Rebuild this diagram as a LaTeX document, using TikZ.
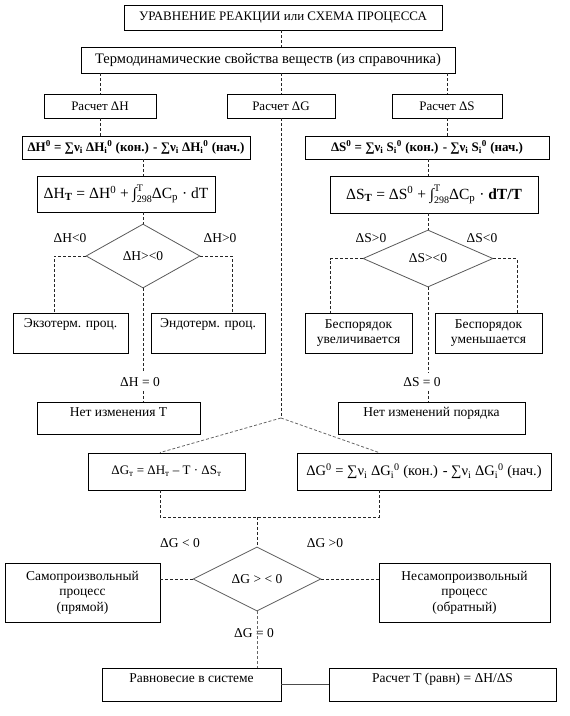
\documentclass[tikz,border=0pt]{standalone}
\usepackage{fontspec}
\setmainfont{Liberation Serif}
\usetikzlibrary{shapes.geometric}
\newcommand{\fsN}{\fontsize{13.5}{15.5}\selectfont}
\newcommand{\fsR}{\fontsize{13}{15}\selectfont}
\newcommand{\fsL}{\fontsize{14.5}{16.5}\selectfont}
\newcommand{\fsS}{\fontsize{13}{15}\selectfont}
\newcommand{\fsB}{\fontsize{15.5}{17}\selectfont}
\newcommand{\intlim}{∫\rlap{\raisebox{1.0ex}{\fontsize{10}{10}\selectfont T}}\raisebox{-0.55ex}{\fontsize{10}{10}\selectfont 298}}
\begin{document}
\begin{tikzpicture}[x=1pt,y=-1pt,
  box/.style={draw=black, line width=0.9pt, align=center, inner sep=1pt, font=\fsN},
  dia/.style={draw=black!65, line width=0.8pt, shape=diamond, aspect=2, inner sep=0pt, font=\fsN},
  dl/.style={draw=black!85, line width=0.8pt, dash pattern=on 3pt off 2pt},
  dg/.style={draw=black!60, line width=0.8pt, dash pattern=on 3pt off 2pt},
  lbl/.style={font=\fsN, inner sep=1pt}]
\useasboundingbox (0,0) rectangle (570,716);
% top
\node[box, font=\fsR, minimum width=318pt, minimum height=25pt] (title) at (283,17.5) {УРАВНЕНИЕ РЕАКЦИИ или СХЕМА ПРОЦЕССА};
\node[box, font=\fsL, minimum width=374pt, minimum height=26pt] (thermo) at (268,60) {Термодинамические свойства веществ (из справочника)};
\node[box, font=\fsR, minimum width=112pt, minimum height=24pt] (rowH) at (100,106) {Расчет ΔH};
\node[box, font=\fsR, minimum width=108pt, minimum height=24pt] (rowG) at (281,106) {Расчет ΔG};
\node[box, font=\fsR, minimum width=110pt, minimum height=24pt] (rowS) at (447,106) {Расчет ΔS};
% H column
\node[box, font=\fsR\bfseries, minimum width=228pt, minimum height=23pt] (h0) at (136,147.5) {ΔH\textsuperscript{0} = ∑ν\textsubscript{i} ΔH\textsubscript{i}\textsuperscript{0} (кон.) - ∑ν\textsubscript{i} ΔH\textsubscript{i}\textsuperscript{0} (нач.)};
\node[box, font=\fsB, minimum width=178pt, minimum height=36pt] (hT) at (126,194) {ΔH\textsubscript{\bfseries T} = ΔH\textsuperscript{0} + \intlim ΔC\textsubscript{p} · dT};
\node[dia, minimum width=114pt, minimum height=64pt] (dH) at (143,256) {ΔH><0\\[4pt]};
\node[lbl] (lHn) at (70,238) {ΔH<0};
\node[lbl] (lHp) at (220,238) {ΔH>0};
\node[box, minimum width=115pt, minimum height=40pt] (exo) at (70.5,333) {Экзотерм. проц.\\ \strut};
\node[box, minimum width=114pt, minimum height=40pt] (endo) at (208,333) {Эндотерм. проц.\\ \strut};
\node[lbl, inner sep=4pt] (hz) at (140,382) {ΔH = 0};
\node[box, minimum width=163pt, minimum height=32pt] (noT) at (118.5,418) {Нет изменения Т\\[-3pt]};
% S column
\node[box, font=\fsR\bfseries, minimum width=244pt, minimum height=23pt] (s0) at (427,147.5) {ΔS\textsuperscript{0} = ∑ν\textsubscript{i} S\textsubscript{i}\textsuperscript{0} (кон.) - ∑ν\textsubscript{i} S\textsubscript{i}\textsuperscript{0} (нач.)};
\node[box, font=\fsB, minimum width=208pt, minimum height=37pt] (sT) at (434,194.5) {ΔS\textsubscript{\bfseries T} = ΔS\textsuperscript{0} + \intlim ΔC\textsubscript{p} · \textbf{dT/T}};
\node[dia, minimum width=130pt, minimum height=57pt] (dS) at (428,258.5) {ΔS><0\\[4pt]};
\node[lbl] (lSp) at (371,238) {ΔS>0};
\node[lbl] (lSn) at (482,238) {ΔS<0};
\node[box, minimum width=107pt, minimum height=40pt] (bu) at (358.5,333) {Беспорядок\\увеличивается};
\node[box, minimum width=107pt, minimum height=40pt] (bm) at (488.5,333) {Беспорядок\\уменьшается};
\node[lbl, inner sep=4pt] (sz) at (422,382) {ΔS = 0};
\node[box, minimum width=187pt, minimum height=32pt] (noP) at (431.5,418) {Нет изменений порядка\\[-3pt]};
% G part
\coordinate (apex) at (281,418);
\node[box, font=\fsS, minimum width=157pt, minimum height=37pt] (gT) at (166.5,471.5) {ΔG\textsubscript{т} = ΔH\textsubscript{т} – T · ΔS\textsubscript{т}};
\node[box, font=\fsL, minimum width=254pt, minimum height=37pt] (g0) at (424,471.5) {ΔG\textsuperscript{0} = ∑ν\textsubscript{i} ΔG\textsubscript{i}\textsuperscript{0} (кон.) - ∑ν\textsubscript{i} ΔG\textsubscript{i}\textsuperscript{0} (нач.)};
\coordinate (jn) at (257,517);
\node[dia, minimum width=128pt, minimum height=64pt] (dG) at (257,579) {ΔG > < 0\\[4pt]};
\node[lbl] (lGn) at (180,543) {ΔG < 0};
\node[lbl] (lGp) at (325,543) {ΔG >0};
\node[box, minimum width=155pt, minimum height=59pt] (sam) at (82.5,592.5) {Самопроизвольный\\процесс\\(прямой)};
\node[box, minimum width=171pt, minimum height=59pt] (nesam) at (464.5,592.5) {Несамопроизвольный\\процесс\\(обратный)};
\node[lbl] (gz) at (254,633) {ΔG = 0};
\node[box, minimum width=179pt, minimum height=33pt] (ravn) at (191.5,684.5) {Равновесие в системе\\[-3pt]};
\node[box, minimum width=227pt, minimum height=33pt] (rasT) at (442.5,684.5) {Расчет T (равн) = ΔH/ΔS\\[-3pt]};
% connectors
\draw[dl] (rowG.center |- title.south) -- (rowG.center |- thermo.north);
\draw[dl] (rowH.north |- thermo.south) -- (rowH.north);
\draw[dl] (rowG.north |- thermo.south) -- (rowG.north);
\draw[dl] (rowS.north |- thermo.south) -- (rowS.north);
\draw[dl] (rowH.south) -- (rowH.south |- h0.north);
\draw[dl] (rowS.south) -- (rowS.south |- s0.north);
\draw[dl] (dH.north |- h0.south) -- (dH.north |- hT.north);
\draw[dl] (dH.north |- hT.south) -- (dH.north);
\draw[dl] (dS.north |- s0.south) -- (dS.north |- sT.north);
\draw[dl] (dS.north |- sT.south) -- (dS.north);
\draw[dl] (dH.west) -| ([xshift=-16.5pt]exo.north);
\draw[dl] (dH.east) -| ([xshift=24pt]endo.north);
\draw[dl] (dS.west) -| ([xshift=-28.5pt]bu.north);
\draw[dl] (dS.east) -| ([xshift=28.5pt]bm.north);
\draw[dl] (dH.south) -- (dH.south |- hz.north);
\draw[dl] (dH.south |- hz.south) -- (dH.south |- noT.north);
\draw[dl] (dS.south) -- (dS.south |- sz.north);
\draw[dl] (dS.south |- sz.south) -- (dS.south |- noP.north);
\draw[dl] (rowG.south) -- (apex);
\draw[dg] (apex) -- ([xshift=-6.5pt]gT.north);
\draw[dg] (apex) -- ([xshift=-45pt]g0.north);
\draw[dl] ([xshift=-6.5pt]gT.south) |- (jn) -| ([xshift=-45pt]g0.south);
\draw[dl] (jn) -- (dG.north);
\draw[dl] (dG.west) -- (dG.west -| sam.east);
\draw[dl] (dG.east) -- (dG.east -| nesam.west);
\draw[dg] (dG.south) -- (dG.south |- ravn.north);
\draw[draw=black!70, line width=0.9pt] (ravn.east) -- (rasT.west);
\end{tikzpicture}
\end{document}
